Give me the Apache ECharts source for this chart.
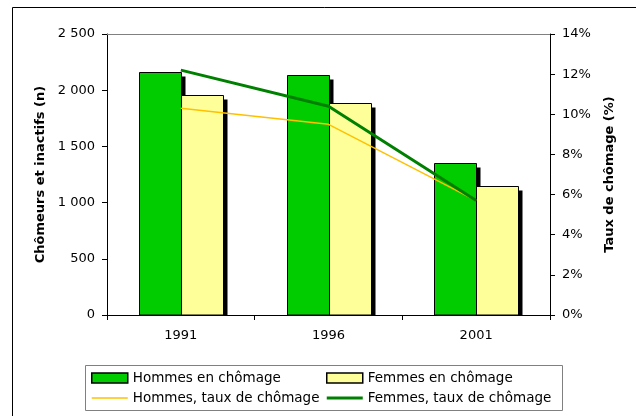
<!DOCTYPE html>
<html>
<head>
<meta charset="utf-8">
<script src="https://cdn.jsdelivr.net/npm/echarts@6/dist/echarts.min.js"></script>
<style>html,body{margin:0;padding:0;background:#fff}#c{width:636px;height:416px}</style>
</head>
<body>
<div id="c"></div>
<script>
var categories = ['1991', '1996', '2001'];
var hommesChomage = [2165, 2138, 1350];
var femmesChomage = [1955, 1890, 1150];
var hommesTaux = [10.3, 9.5, 5.7];
var femmesTaux = [12.2, 10.4, 5.7];
var leftTicks = { min: 0, max: 2500, interval: 500 };
var rightTicks = { min: 0, max: 14, interval: 2 };

var FONT = 'DejaVu Sans';
var chart = echarts.init(document.getElementById('c'), null, { renderer: 'canvas' });

function toPairs(arr) { return arr.map(function (v, i) { return [i, v]; }); }

function barRenderer(side, color) {
  return function (params, api) {
    var idx = api.value(0), val = api.value(1);
    var top = api.coord([idx, val]);
    var base = api.coord([idx, 0]);
    var bw = Math.round(api.size([1, 0])[0] * 0.285);
    var x = Math.round(side < 0 ? top[0] - bw : top[0]) + 0.5;
    var y = Math.round(top[1]) + 0.5;
    var by = Math.round(base[1]);
    return {
      type: 'group',
      children: [
        { type: 'rect', shape: { x: x + 4, y: y + 4, width: bw, height: by - y - 4 }, style: { fill: '#000' } },
        { type: 'rect', shape: { x: x, y: y, width: bw, height: by - y }, style: { fill: color, stroke: '#000', lineWidth: 1 } }
      ]
    };
  };
}

var legendText = { fontFamily: FONT, fontSize: 13.5, color: '#000', lineHeight: 14 };

chart.setOption({
  animation: false,
  backgroundColor: '#fff',
  textStyle: { fontFamily: FONT },
  grid: { left: 107, right: 86, top: 34, bottom: 101 },
  graphic: [
    { type: 'rect', shape: { x: 12.5, y: 7.5, width: 700, height: 500 }, style: { fill: 'none', stroke: '#000', lineWidth: 1 }, z: 0 },
    { type: 'rect', shape: { x: 85.5, y: 365.5, width: 477, height: 45 }, style: { fill: '#fff', stroke: '#808080', lineWidth: 1 }, z: 0 }
  ],
  legend: [
    {
      left: 91, top: 371, orient: 'vertical', itemWidth: 36, itemHeight: 10, itemGap: 6, padding: 0,
      textStyle: legendText,
      data: [
        { name: 'Hommes en chômage', icon: 'rect', itemStyle: { color: '#00CC00', borderColor: '#000', borderWidth: 1.5 } },
        { name: 'Hommes, taux de chômage', icon: 'path://M0,0H36V1.5H0Z', itemStyle: { color: '#FFC000' } }
      ]
    },
    {
      left: 326, top: 371, orient: 'vertical', itemWidth: 36, itemHeight: 10, itemGap: 6, padding: 0,
      textStyle: legendText,
      data: [
        { name: 'Femmes en chômage', icon: 'rect', itemStyle: { color: '#FFFF99', borderColor: '#000', borderWidth: 1.5 } },
        { name: 'Femmes, taux de chômage', icon: 'path://M0,0H36V3H0Z', itemStyle: { color: '#008000' } }
      ]
    }
  ],
  xAxis: [
    {
      type: 'category', data: categories, position: 'bottom',
      axisLine: { onZero: false, lineStyle: { color: '#000', width: 1 } },
      axisTick: { show: true, length: 5, lineStyle: { color: '#000' } },
      axisLabel: { color: '#000', fontSize: 13, fontFamily: FONT, margin: 14 }
    },
    {
      type: 'category', data: categories, position: 'top',
      axisLine: { show: true, onZero: false, lineStyle: { color: '#808080', width: 1 } },
      axisTick: { show: false }, axisLabel: { show: false }
    }
  ],
  yAxis: [
    {
      type: 'value', min: leftTicks.min, max: leftTicks.max, interval: leftTicks.interval,
      name: 'Chômeurs et inactifs (n)', nameLocation: 'middle', nameGap: 60, nameRotate: 90,
      nameTextStyle: { fontFamily: FONT, fontWeight: 'bold', fontSize: 13, color: '#000' },
      axisLine: { show: true, lineStyle: { color: '#000' } },
      axisTick: { show: true, length: 5, lineStyle: { color: '#000' } },
      splitLine: { show: false },
      axisLabel: {
        color: '#000', fontSize: 13, fontFamily: FONT, margin: 12,
        formatter: function (v) { return v >= 1000 ? Math.floor(v / 1000) + ' ' + String(v % 1000).padStart(3, '0') : String(v); }
      }
    },
    {
      type: 'value', min: rightTicks.min, max: rightTicks.max, interval: rightTicks.interval,
      name: 'Taux de chômage (%)', nameLocation: 'middle', nameGap: 53, nameRotate: 90,
      nameTextStyle: { fontFamily: FONT, fontWeight: 'bold', fontSize: 13, color: '#000' },
      axisLine: { show: true, lineStyle: { color: '#000' } },
      axisTick: { show: true, length: 5, lineStyle: { color: '#000' } },
      splitLine: { show: false },
      axisLabel: { color: '#000', fontSize: 13, fontFamily: FONT, margin: 12, formatter: '{value}%' }
    }
  ],
  series: [
    {
      name: 'Hommes en chômage', type: 'custom', data: toPairs(hommesChomage), yAxisIndex: 0,
      encode: { x: 0, y: 1 }, renderItem: barRenderer(-1, '#00CC00'),
      itemStyle: { color: '#00CC00', borderColor: '#000', borderWidth: 1 }, z: 2
    },
    {
      name: 'Femmes en chômage', type: 'custom', data: toPairs(femmesChomage), yAxisIndex: 0,
      encode: { x: 0, y: 1 }, renderItem: barRenderer(1, '#FFFF99'),
      itemStyle: { color: '#FFFF99', borderColor: '#000', borderWidth: 1 }, z: 2
    },
    {
      name: 'Hommes, taux de chômage', type: 'line', data: hommesTaux, yAxisIndex: 1,
      symbol: 'none', lineStyle: { color: '#FFC000', width: 1.5 }, itemStyle: { color: '#FFC000' }, z: 3
    },
    {
      name: 'Femmes, taux de chômage', type: 'line', data: femmesTaux, yAxisIndex: 1,
      symbol: 'none', lineStyle: { color: '#008000', width: 3 }, itemStyle: { color: '#008000' }, z: 3
    }
  ]
});
</script>
</body>
</html>
